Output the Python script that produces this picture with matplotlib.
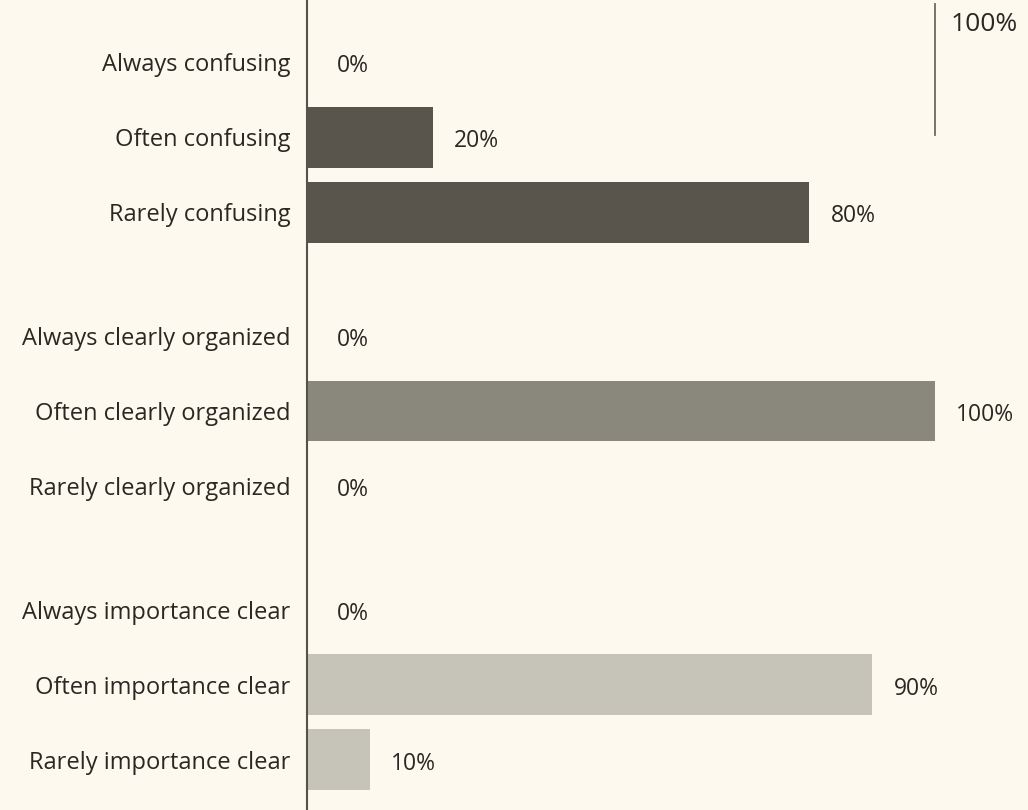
import matplotlib.pyplot as plt

categories = [
    "Always confusing", "Often confusing", "Rarely confusing",
    "Always clearly organized", "Often clearly organized", "Rarely clearly organized",
    "Always importance clear", "Often importance clear", "Rarely importance clear",
]
values = [0, 20, 80, 0, 100, 0, 0, 90, 10]
groups = [0, 0, 0, 1, 1, 1, 2, 2, 2]
group_colors = ["#59554d", "#8a877c", "#c6c4b9"]
scale_max = 100

bg = "#fdf9ee"
ink = "#2b2723"
font = "Open Sans"

# rows with a bit of extra space between the three groups
ypos = [i + 0.65 * g for i, g in enumerate(groups)]
colors = [group_colors[g] for g in groups]

fig = plt.figure(figsize=(10.28, 8.10), dpi=100, facecolor=bg)
ax = fig.add_axes([307 / 1028, 0, 1 - 307 / 1028, 1])
ax.set_facecolor(bg)

ax.barh(ypos, values, height=0.81, color=colors, edgecolor="none")

for y, v in zip(ypos, values):
    offset = 4.8 if v == 0 else 3.4
    ax.text(v + offset, y + 0.05, f"{v}%", va="center", ha="left",
            fontsize=16.5, color=ink, family=font)

# reference mark at full scale
ax.plot([scale_max, scale_max], [-0.78, 0.97], color="#6e6a63", lw=1.3)
ax.text(scale_max + 2.4, -0.5, f"{scale_max}%", va="center", ha="left",
        fontsize=19, color=ink, family=font)

ax.set_xlim(0, 721 / 6.28)
ax.set_ylim(9.97, -0.83)
ax.set_yticks(ypos)
ax.set_yticklabels(categories, fontsize=17, color=ink, family=font)
ax.tick_params(axis="y", length=0, pad=12)
ax.set_xticks([])

for side in ["top", "right", "bottom"]:
    ax.spines[side].set_visible(False)
ax.spines["left"].set_color("#55514b")
ax.spines["left"].set_linewidth(1.5)

fig.savefig("out.png", dpi=100, facecolor=bg)
